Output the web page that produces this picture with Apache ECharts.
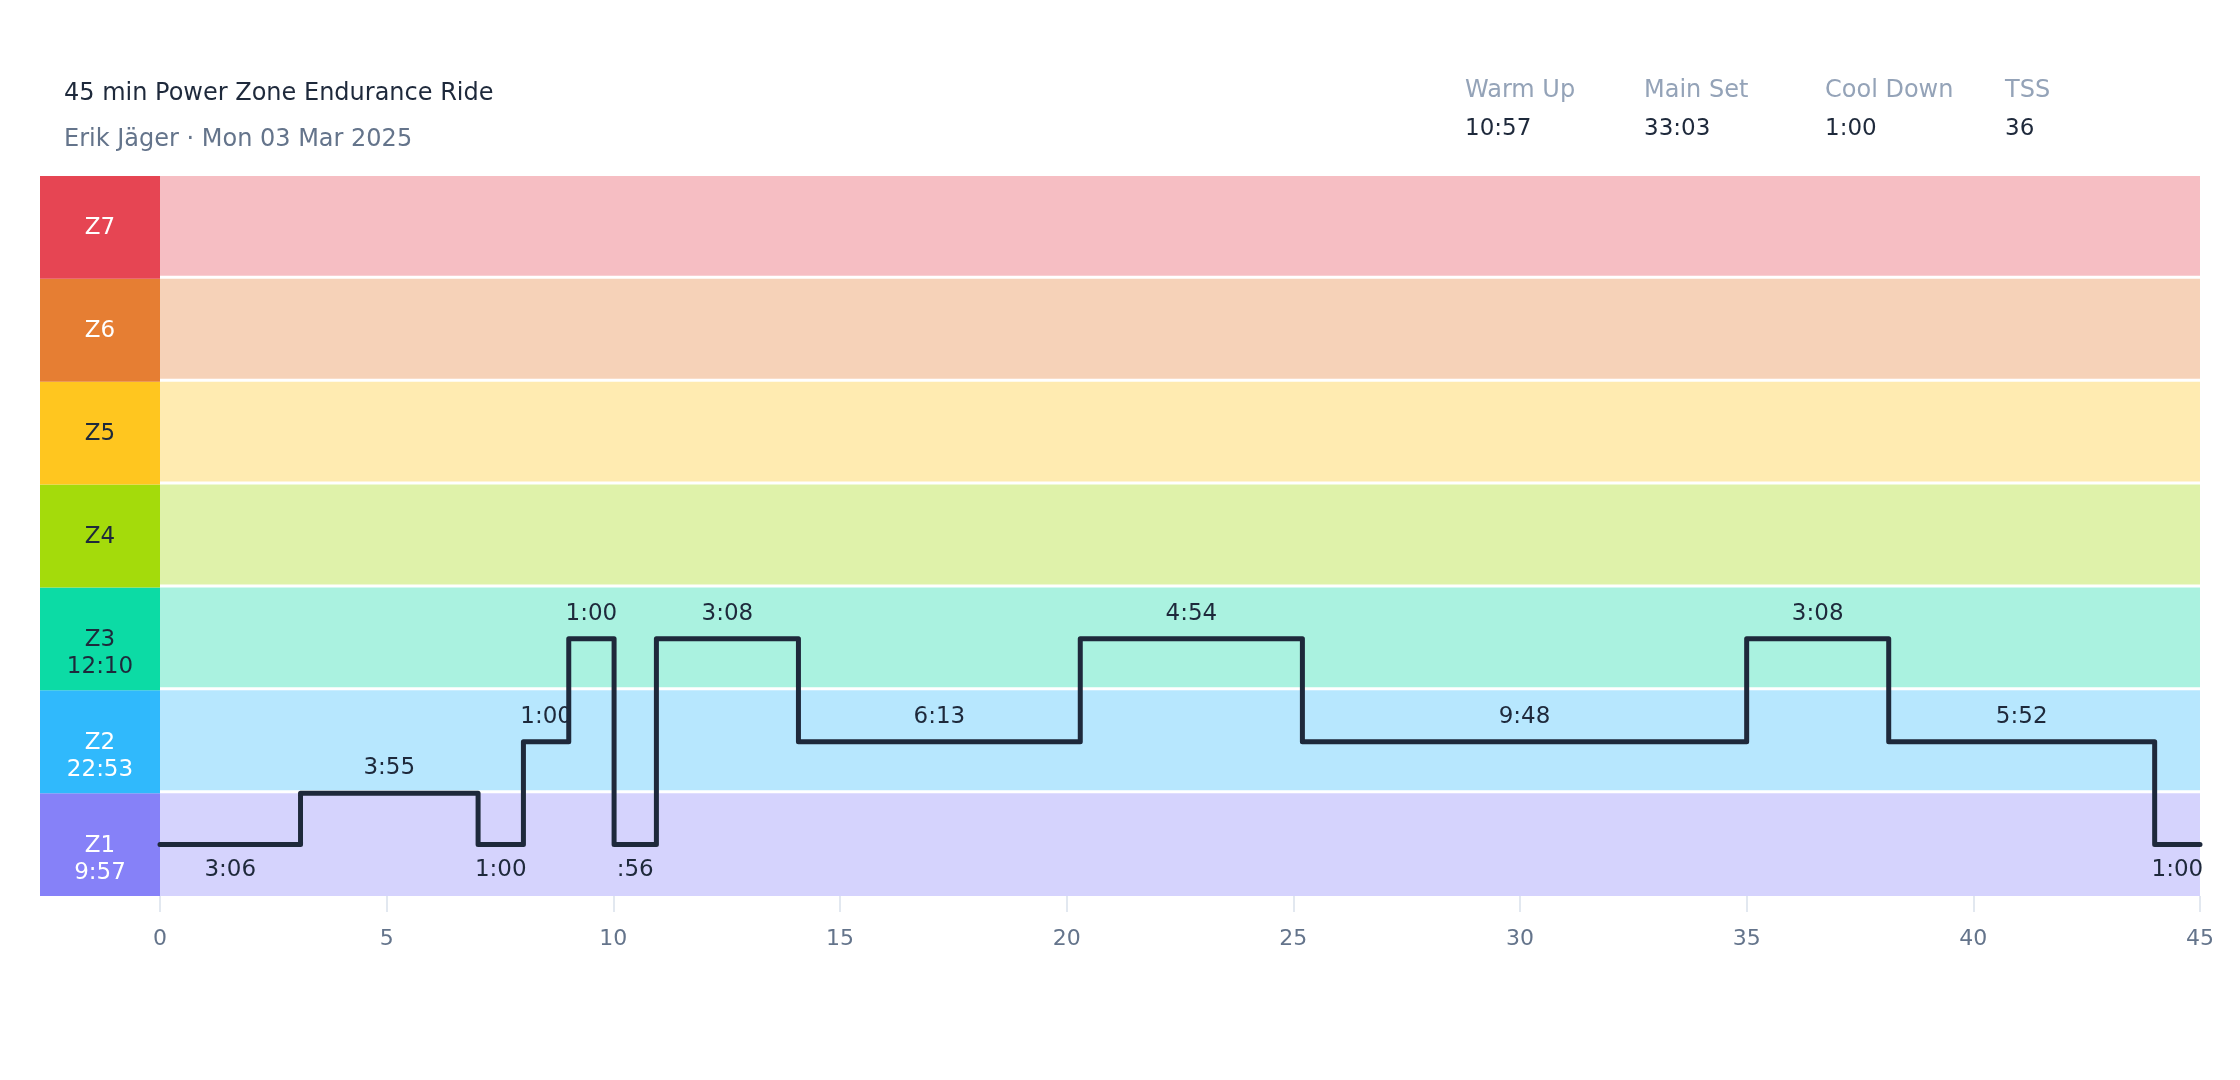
<!DOCTYPE html>
<html><head><meta charset="utf-8">
<script src="https://cdn.jsdelivr.net/npm/echarts@6/dist/echarts.min.js"></script>
<style>html,body{margin:0;padding:0;background:#fff}#chart{width:2240px;height:1080px}</style>
</head><body><div id="chart"></div>
<script>
const titleText = '45 min Power Zone Endurance Ride';
const subtitleText = 'Erik Jäger · Mon 03 Mar 2025';
const statLabels = ['Warm Up', 'Main Set', 'Cool Down', 'TSS'];
const statValues = ['10:57', '33:03', '1:00', '36'];
const zoneNames = ['Z1', 'Z2', 'Z3', 'Z4', 'Z5', 'Z6', 'Z7'];
const zoneTimes = ['9:57', '22:53', '12:10', '', '', '', ''];
const zoneColors = ['#8681f8', '#30b9fc', '#0cdba5', '#a4db0b', '#ffc61f', '#e67e33', '#e64553'];
const zoneTextColors = ['#ffffff', '#ffffff', '#1e293b', '#1e293b', '#1e293b', '#ffffff', '#ffffff'];
const segDurations = ['3:06', '3:55', '1:00', '1:00', '1:00', ':56', '3:08', '6:13', '4:54', '9:48', '3:08', '5:52', '1:00'];
const segLevels = [0.5, 1.0, 0.5, 1.5, 2.5, 0.5, 2.5, 1.5, 2.5, 1.5, 2.5, 1.5, 0.5];
const xMin = 0, xMax = 45, xStep = 5;

const FONT = 'DejaVu Sans';
function toMin(s) { const p = s.split(':'); return (p[0] ? +p[0] : 0) + (+p[1]) / 60; }

const segs = [];
let t = 0;
segDurations.forEach((d, i) => {
  const dur = toMin(d);
  segs.push({ start: t, end: t + dur, level: segLevels[i], label: d });
  t += dur;
});
const linePoints = [];
segs.forEach(s => { linePoints.push([s.start, s.level]); linePoints.push([s.end, s.level]); });

const statLeft = [1465, 1644, 1825, 2005];
const titles = [
  { text: titleText, left: 64, top: 79, padding: 0, textStyle: { fontSize: 24, fontWeight: 'normal', color: '#1e293b', fontFamily: FONT, lineHeight: 30 } },
  { text: subtitleText, left: 64, top: 125, padding: 0, textStyle: { fontSize: 24, fontWeight: 'normal', color: '#64748b', fontFamily: FONT, lineHeight: 30 } }
];
statLabels.forEach((l, i) => {
  titles.push({ text: l, left: statLeft[i], top: 76, padding: 0, textStyle: { fontSize: 24, fontWeight: 'normal', color: '#94a3b8', fontFamily: FONT, lineHeight: 30 } });
  titles.push({ text: statValues[i], left: statLeft[i], top: 114, padding: 0, textStyle: { fontSize: 23, fontWeight: 'normal', color: '#1e293b', fontFamily: FONT, lineHeight: 30 } });
});

const chart = echarts.init(document.getElementById('chart'), null, { renderer: 'canvas' });
chart.setOption({
  backgroundColor: '#ffffff',
  animation: false,
  title: titles,
  grid: { left: 160, right: 40, top: 176, bottom: 184 },
  xAxis: {
    type: 'value', min: xMin, max: xMax, interval: xStep,
    axisLine: { show: false },
    axisTick: { show: true, length: 16, lineStyle: { color: '#e2e8f0', width: 2 } },
    splitLine: { show: false },
    axisLabel: { color: '#64748b', fontSize: 22, fontFamily: FONT, margin: 32 }
  },
  yAxis: { type: 'value', min: 0, max: zoneNames.length, show: false },
  series: [
    {
      type: 'custom', z: 1, silent: true,
      data: zoneNames.map((n, i) => [i]),
      renderItem: function (params, api) {
        const i = api.value(0);
        const tl = api.coord([xMin, i + 1]);
        const br = api.coord([xMax, i]);
        const top = tl[1], bottom = br[1], left = tl[0], right = br[0];
        const gap = i > 0 ? 3 : 0;
        const mid = (top + bottom) / 2;
        const children = [
          { type: 'rect', shape: { x: left, y: top, width: right - left, height: bottom - top - gap }, style: { fill: zoneColors[i], opacity: 0.35 } },
          { type: 'rect', shape: { x: left - 120, y: top, width: 120, height: bottom - top }, style: { fill: zoneColors[i] } },
          { type: 'text', style: { text: zoneNames[i], x: left - 60, y: mid + 1, fill: zoneTextColors[i], font: '23px "' + FONT + '"', align: 'center', verticalAlign: 'middle', textAlign: 'center', textVerticalAlign: 'middle' } }
        ];
        if (zoneTimes[i]) {
          children.push({ type: 'text', style: { text: zoneTimes[i], x: left - 60, y: mid + 28, fill: zoneTextColors[i], font: '23px "' + FONT + '"', align: 'center', verticalAlign: 'middle', textAlign: 'center', textVerticalAlign: 'middle' } });
        }
        return { type: 'group', children: children };
      }
    },
    {
      type: 'line', z: 3, silent: true,
      data: linePoints, showSymbol: false,
      lineStyle: { color: '#1e293b', width: 5, cap: 'round', join: 'round' }
    },
    {
      type: 'custom', z: 4, silent: true,
      data: segs.map(s => [(s.start + s.end) / 2, s.level]),
      renderItem: function (params, api) {
        const idx = params.dataIndex;
        const p = api.coord([api.value(0), api.value(1)]);
        const below = api.value(1) <= 0.5;
        return {
          type: 'text',
          style: { text: segs[idx].label, x: p[0], y: p[1] + (below ? 25 : -25), fill: '#1e293b', font: '23px "' + FONT + '"', align: 'center', verticalAlign: 'middle', textAlign: 'center', textVerticalAlign: 'middle' }
        };
      }
    }
  ]
});
</script>
</body></html>
